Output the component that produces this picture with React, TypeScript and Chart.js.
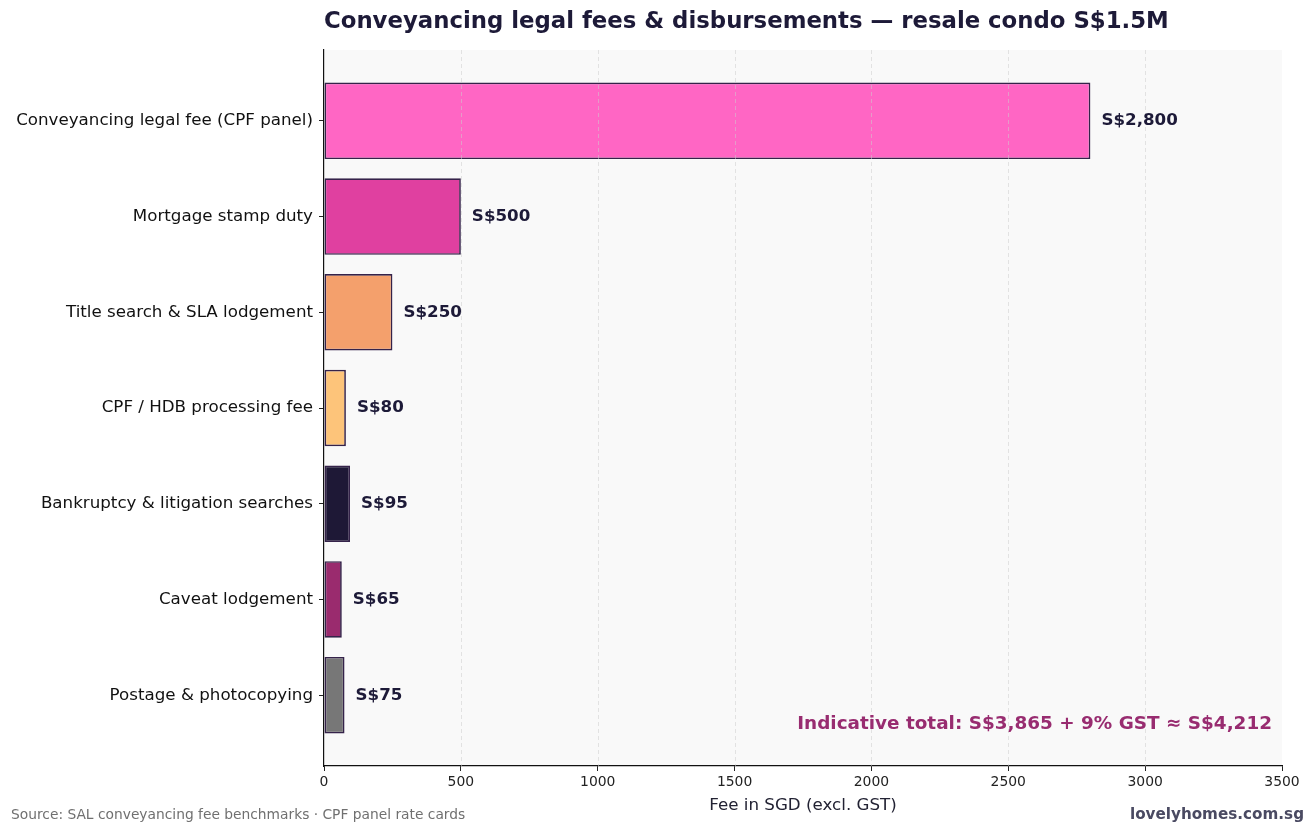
import { useEffect, useRef } from 'react'
import { Chart, registerables, type ChartConfiguration, type Plugin } from 'chart.js'

Chart.register(...registerables)

const categories = [
  'Conveyancing legal fee (CPF panel)',
  'Mortgage stamp duty',
  'Title search & SLA lodgement',
  'CPF / HDB processing fee',
  'Bankruptcy & litigation searches',
  'Caveat lodgement',
  'Postage & photocopying',
]
const fees = [2800, 500, 250, 80, 95, 65, 75]
const barColors = ['#ff66c4', '#e040a0', '#f4a06c', '#fdc47a', '#1e1836', '#9a2b6e', '#777777']
const xTicks = [0, 500, 1000, 1500, 2000, 2500, 3000, 3500]

const FONT = "'DejaVu Sans', sans-serif"
const INK = '#1d1a38'

const fmt = (v: number) => 'S$' + v.toLocaleString('en-US')

const decor: Plugin<'bar'> = {
  id: 'decor',
  beforeDraw(chart) {
    const { ctx, chartArea: a } = chart
    ctx.save()
    ctx.fillStyle = '#f9f9f9'
    ctx.fillRect(a.left, a.top, a.right - a.left, a.bottom - a.top)
    ctx.restore()
  },
  afterDatasetsDraw(chart) {
    const { ctx, chartArea: a } = chart
    const xs = chart.scales.x
    ctx.save()
    // dashed grid, drawn over the bars like the reference
    ctx.strokeStyle = 'rgba(204,204,204,0.65)'
    ctx.lineWidth = 0.8
    ctx.setLineDash([4, 3])
    xTicks.forEach((t) => {
      if (t <= 0 || t >= 3500) return
      const px = Math.round(xs.getPixelForValue(t)) + 0.5
      ctx.beginPath()
      ctx.moveTo(px, a.top)
      ctx.lineTo(px, a.bottom)
      ctx.stroke()
    })
    ctx.setLineDash([])

    // value labels
    ctx.fillStyle = INK
    ctx.font = `bold 16.7px ${FONT}`
    ctx.textBaseline = 'middle'
    ctx.textAlign = 'left'
    chart.getDatasetMeta(0).data.forEach((bar, i) => {
      const b = bar as unknown as { x: number; y: number }
      ctx.fillText(fmt(fees[i]), b.x + 11, b.y)
    })

    // total note
    const total = fees.reduce((s, v) => s + v, 0)
    const gross = Math.floor(total * 1.09)
    ctx.fillStyle = '#982c70'
    ctx.font = `bold 18.4px ${FONT}`
    ctx.textAlign = 'right'
    ctx.fillText(`Indicative total: ${fmt(total)} + 9% GST ≈ ${fmt(gross)}`, a.right - 10, 724)
    ctx.restore()
  },
  afterDraw(chart) {
    const { ctx, chartArea: a } = chart
    ctx.save()
    ctx.textBaseline = 'middle'
    ctx.fillStyle = INK
    ctx.font = `bold 22.8px ${FONT}`
    ctx.textAlign = 'left'
    ctx.fillText('Conveyancing legal fees & disbursements — resale condo S$1.5M', a.left, 22)

    ctx.font = `16.7px ${FONT}`
    ctx.fillStyle = '#222233'
    ctx.textAlign = 'center'
    ctx.fillText('Fee in SGD (excl. GST)', (a.left + a.right) / 2, 806)

    ctx.font = `13.8px ${FONT}`
    ctx.fillStyle = '#707070'
    ctx.textAlign = 'left'
    ctx.fillText('Source: SAL conveyancing fee benchmarks · CPF panel rate cards', 11, 815)

    ctx.font = `bold 15.2px ${FONT}`
    ctx.fillStyle = '#4a4a62'
    ctx.textAlign = 'right'
    ctx.fillText('lovelyhomes.com.sg', 1304, 815)
    ctx.restore()
  },
}

export default function App() {
  const canvasRef = useRef<HTMLCanvasElement | null>(null)
  const chartRef = useRef<Chart<'bar'> | null>(null)

  useEffect(() => {
    document.body.style.margin = '0'
    const canvas = canvasRef.current
    if (!canvas) return
    chartRef.current?.destroy()

    const config: ChartConfiguration<'bar'> = {
      type: 'bar',
      data: {
        datasets: [
          {
            data: fees.map((v, i) => ({ x: v, y: i })) as any,
            backgroundColor: barColors,
            borderColor: '#35234a',
            borderWidth: 1.7,
            borderSkipped: false,
            barPercentage: 0.8,
            categoryPercentage: 1,
          },
        ],
      },
      options: {
        indexAxis: 'y',
        responsive: false,
        animation: false,
        layout: { padding: { top: 50, right: 33, bottom: 0, left: 0 } },
        plugins: { legend: { display: false }, tooltip: { enabled: false } },
        scales: {
          x: {
            type: 'linear',
            min: 0,
            max: 3500,
            afterBuildTicks: (s) => {
              s.ticks = xTicks.map((value) => ({ value }))
            },
            afterFit: (s) => {
              s.height = 67
            },
            ticks: {
              color: '#222',
              font: { family: FONT, size: 13.9 },
              padding: 3,
              callback: (v) => String(v),
            },
            grid: { drawOnChartArea: false, drawTicks: true, tickLength: 5, tickColor: '#222', tickWidth: 1 },
            border: { color: '#111', width: 1.2 },
          },
          y: {
            type: 'linear',
            reverse: true,
            offset: false,
            min: -0.74,
            max: 6.74,
            afterBuildTicks: (s) => {
              s.ticks = categories.map((_, value) => ({ value }))
            },
            afterFit: (s) => {
              s.width = 324
            },
            ticks: {
              color: '#111',
              font: { family: FONT, size: 16.7 },
              padding: 6,
              callback: (v) => categories[Number(v)] ?? '',
            },
            grid: {
              offset: false,
              drawOnChartArea: false,
              drawTicks: true,
              tickLength: 5,
              tickColor: '#222',
              tickWidth: 1,
            },
            border: { color: '#111', width: 1.2 },
          },
        },
      },
      plugins: [decor],
    }

    chartRef.current = new Chart(canvas, config)
    return () => {
      chartRef.current?.destroy()
      chartRef.current = null
    }
  }, [])

  return (
    <div style={{ width: 1315, height: 833, background: '#ffffff' }}>
      <canvas ref={canvasRef} width={1315} height={833} role="img" aria-label="Conveyancing legal fees bar chart" />
    </div>
  )
}
